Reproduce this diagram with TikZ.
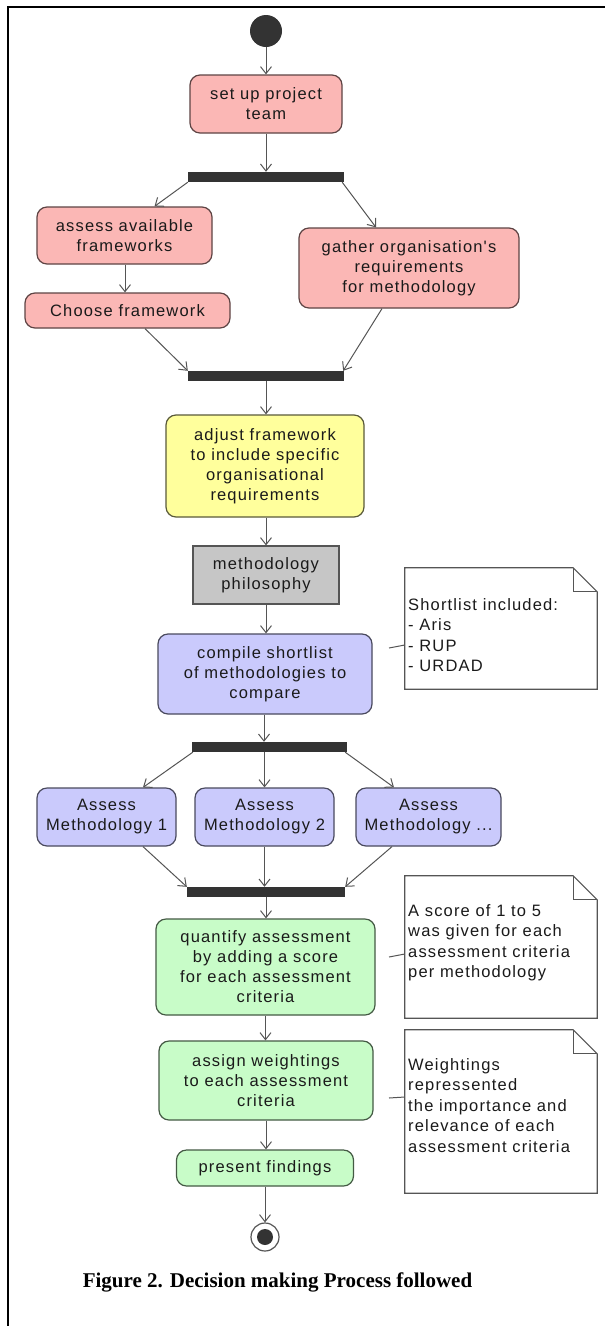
\documentclass[tikz,border=0pt]{standalone}
\usepackage{fontspec}
\usetikzlibrary{arrows.meta,calc}
\newfontfamily\umlfont[LetterSpace=7]{Liberation Sans}
\newfontfamily\capfont{Liberation Serif}
\definecolor{pinkf}{HTML}{FBB7B5}
\definecolor{pinkd}{HTML}{5E4444}
\definecolor{yellf}{HTML}{FFFF9C}
\definecolor{yelld}{HTML}{5A5A3A}
\definecolor{greyf}{HTML}{C6C6C6}
\definecolor{lavf}{HTML}{CACAFC}
\definecolor{lavd}{HTML}{4A4A5E}
\definecolor{grnf}{HTML}{C8FCC8}
\definecolor{grnd}{HTML}{445A44}
\definecolor{bard}{HTML}{333333}
\definecolor{linec}{HTML}{555555}
\definecolor{txt}{HTML}{1A1A1A}
\tikzset{
  x=1pt,y=-1pt,
  act/.style={rounded corners=10pt,draw,line width=1.2pt,align=center,inner sep=0pt,
    font=\umlfont\fontsize{16.5}{20}\selectfont,text=txt},
  pinkact/.style={act,fill=pinkf,draw=pinkd},
  yellact/.style={act,fill=yellf,draw=yelld},
  lavact/.style={act,fill=lavf,draw=lavd},
  grnact/.style={act,fill=grnf,draw=grnd},
  objbox/.style={draw=linec,line width=1.2pt,fill=greyf,align=center,inner sep=0pt,
    font=\umlfont\fontsize{16.5}{20}\selectfont,text=txt},
  bar/.style={fill=bard,inner sep=0pt,minimum height=10pt},
  flow/.style={draw=linec,line width=1pt,-{Straight Barb[length=7pt,width=11pt,line width=1pt]}},
  notebox/.style={inner sep=0pt,minimum width=192pt},
  notetxt/.style={align=left,inner sep=0pt,anchor=north west,
    font=\umlfont\fontsize{16.5}{20.5}\selectfont,text=txt},
  noteline/.style={draw=linec,line width=1pt},
  fold/.style={draw=linec,line width=1.2pt,fill=white}
}
\begin{document}
\begin{tikzpicture}
\useasboundingbox (0,0) rectangle (605,1326);
\fill[white] (0,0) rectangle (605,1326);
% frame
\draw[line width=2.5pt,black] (8,1326) -- (8,7) -- (605,7);

% start
\node[circle,fill=bard,minimum size=32pt,inner sep=0pt] (start) at (266,31) {};
\node[pinkact,minimum width=152pt,minimum height=58pt] (setup) at (266,104) {set up project\\team};
\node[bar,minimum width=156pt] (bar1) at (266,177) {};
\node[pinkact,minimum width=175pt,minimum height=57pt] (assessfw) at (124.5,235.5) {assess available\\frameworks};
\node[pinkact,minimum width=205pt,minimum height=35pt] (choose) at (127.5,310.5) {Choose framework};
\node[pinkact,minimum width=220pt,minimum height=80pt] (gather) at (409,268) {gather organisation's\\requirements\\for methodology};
\node[bar,minimum width=156pt] (bar2) at (266,376) {};
\node[yellact,minimum width=198pt,minimum height=102pt] (adjust) at (265,466) {adjust framework\\to include specific\\organisational\\requirements};
\node[objbox,minimum width=146pt,minimum height=58pt] (philo) at (266,575) {methodology\\philosophy};
\node[lavact,minimum width=214pt,minimum height=80pt] (compile) at (265,674) {compile shortlist\\of methodologies to\\compare};
\node[bar,minimum width=155pt] (bar3) at (269.5,747) {};
\node[lavact,minimum width=139pt,minimum height=58pt] (am1) at (106.5,817) {Assess\\Methodology 1};
\node[lavact,minimum width=139pt,minimum height=58pt] (am2) at (264.5,817) {Assess\\Methodology 2};
\node[lavact,minimum width=145pt,minimum height=58pt] (am3) at (428.5,817) {Assess\\Methodology ...};
\node[bar,minimum width=158pt] (bar4) at (266,892) {};
\node[grnact,minimum width=219pt,minimum height=96pt] (quant) at (265.5,967) {quantify assessment\\by adding a score\\for each assessment\\criteria};
\node[grnact,minimum width=214pt,minimum height=79pt] (assign) at (266,1080.5) {assign weightings\\to each assessment\\criteria};
\node[grnact,minimum width=177pt,minimum height=36pt] (present) at (265,1168) {present findings};
\node[circle,draw=linec,line width=1.2pt,fill=white,minimum size=28pt,inner sep=0pt] (end) at (265,1237) {};
\fill[bard] (end.center) circle (8pt);

% notes
\node[notebox,minimum height=121pt] (note1) at (501,628.5) {};
\node[notebox,minimum height=142pt] (note2) at (501,947) {};
\node[notebox,minimum height=163pt] (note3) at (501,1111.5) {};
\foreach \n in {note1,note2,note3}{
  \draw[fold] (\n.north west) -- ([xshift=-24pt]\n.north east) -- ([yshift=-24pt]\n.north east)
     -- (\n.south east) -- (\n.south west) -- cycle;
  \draw[fold,fill=none] ([xshift=-24pt]\n.north east) -- ([xshift=-24pt,yshift=-24pt]\n.north east) -- ([yshift=-24pt]\n.north east);
}
\node[notetxt] (t1) at (408,598) {Shortlist included:\\- Aris\\- RUP\\- URDAD};
\node[notetxt] (t2) at (408,904) {A score of 1 to 5\\was given for each\\assessment criteria\\per methodology};
\node[notetxt] (t3) at (408,1058) {Weightings\\repressented\\the importance and\\relevance of each\\assessment criteria};
\coordinate (c1) at (389,648);
\coordinate (c2) at (389,957);
\coordinate (c3) at (389,1098);
\draw[noteline] (c1) -- ([yshift=3pt]note1.west |- c1);
\draw[noteline] (c2) -- ([yshift=3pt]note2.west |- c2);
\draw[noteline] (c3) -- ([yshift=1pt]note3.west |- c3);

% flows
\draw[flow] (start) -- (setup);
\draw[flow] (setup) -- (bar1);
\draw[flow] (bar1.south west) -- ([xshift=30pt]assessfw.north);
\draw[flow] ([xshift=-2pt]bar1.south east) -- ([xshift=-33pt]gather.north);
\draw[flow] ([xshift=0.5pt]assessfw.south) -- ([xshift=0.5pt]assessfw.south |- choose.north);
\draw[flow] ([xshift=17.5pt]choose.south) -- (bar2.north west);
\draw[flow] ([xshift=-27pt]gather.south) -- ([xshift=-1pt]bar2.north east);
\draw[flow] (bar2) -- (bar2 |- adjust.north);
\draw[flow] ([xshift=1pt]adjust.south) -- ([xshift=1pt]adjust.south |- philo.north);
\draw[flow] (philo) -- (philo |- compile.north);
\draw[flow] ([xshift=-1pt]compile.south) -- ([xshift=-1pt]compile.south |- bar3.north);
\draw[flow] ([xshift=1pt]bar3.south west) -- ([xshift=36.5pt]am1.north);
\draw[flow] (am2 |- bar3.south) -- (am2.north);
\draw[flow] ([xshift=-2pt]bar3.south east) -- ([xshift=-34.5pt]am3.north);
\draw[flow] ([xshift=36.5pt]am1.south) -- (bar4.north west);
\draw[flow] (am2.south) -- (am2.south |- bar4.north);
\draw[flow] ([xshift=-36.5pt]am3.south) -- (bar4.north east);
\draw[flow] (bar4) -- (bar4 |- quant.north);
\draw[flow] (quant.south) -- (quant.south |- assign.north);
\draw[flow] (assign.south) -- (assign.south |- present.north);
\draw[flow] (present) -- (end);

% caption
\node[font=\capfont\bfseries\fontsize{21}{24}\selectfont,text=black,inner sep=0pt] (cap) at (277.5,1282) {Figure 2. Decision making Process followed};
\end{tikzpicture}
\end{document}
